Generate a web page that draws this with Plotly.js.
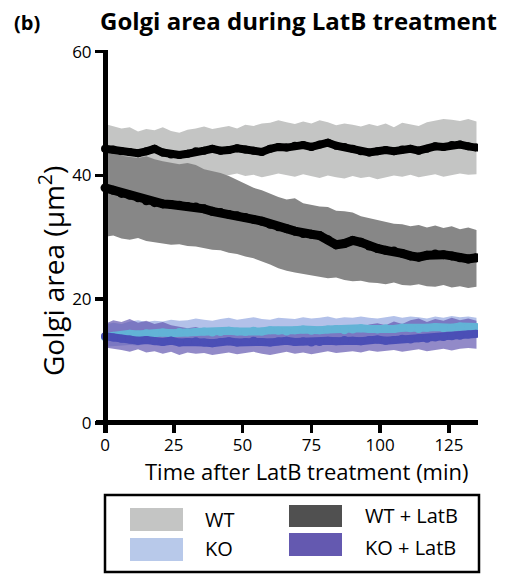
<!DOCTYPE html>
<html><head><meta charset="utf-8">
<script src="https://cdn.plot.ly/plotly-3.0.1.min.js"></script>
<style>html,body{margin:0;padding:0;background:#fff;} #chart{width:525px;height:575px;}</style>
</head><body><div id="chart"></div>
<script>
// ---- data ----
const time = [0,3,6,9,12,15,18,21,24,27,30,33,36,39,42,45,48,51,54,57,60,63,66,69,72,75,78,81,84,87,90,93,96,99,102,105,108,111,114,117,120,123,126,129,132,135];
const seriesNames = ['WT','KO','WT + LatB','KO + LatB'];
const xTicks = [0,25,50,75,100,125];
const yTicks = [0,20,40,60];

const wtMean  = [44.3,44.2,43.9,43.8,43.6,43.9,44.3,43.7,43.4,43.3,43.5,43.9,44.0,44.3,44.0,44.1,44.4,44.2,44.0,43.8,44.3,44.6,44.5,44.8,44.9,44.6,45.0,45.3,44.8,44.6,44.3,43.9,43.7,43.9,44.1,43.9,44.2,44.3,44.0,44.3,44.7,44.6,44.9,45.0,44.7,44.5];
const wtUpper = [48.3,48.0,47.6,47.8,47.1,47.5,47.3,47.8,47.2,46.9,47.4,47.6,47.9,47.5,47.8,48.0,47.6,48.2,48.0,48.4,48.5,48.9,48.6,48.3,48.7,48.4,48.9,48.6,48.1,48.4,48.2,47.9,48.3,48.0,48.4,47.8,48.5,48.2,48.0,48.6,48.9,49.1,49.0,48.8,49.1,48.7];
const wtLower = [40.0,40.2,39.8,39.9,39.6,39.9,39.7,40.0,39.5,39.6,39.8,39.5,39.9,40.2,39.8,40.0,40.3,39.9,40.1,39.7,40.0,40.3,40.1,39.8,40.2,39.9,39.6,40.0,39.7,39.5,39.9,39.6,39.8,39.4,39.7,40.0,39.8,40.1,39.7,39.9,40.2,39.8,40.0,40.3,40.1,40.2];

const wtLatMean  = [38.0,37.6,37.1,36.8,36.4,35.9,35.6,35.4,35.3,35.2,35.0,34.9,34.6,34.2,34.0,33.7,33.5,33.2,32.9,32.6,32.1,31.7,31.4,31.0,30.6,30.5,30.3,29.6,28.8,29.0,29.5,29.2,28.6,28.2,27.9,27.8,27.4,27.0,26.8,27.1,27.3,27.2,27.0,26.7,26.5,26.7];
const wtLatUpper = [45.0,44.0,43.2,43.0,42.8,43.1,42.6,42.3,42.1,41.8,42.0,41.7,41.0,40.7,40.4,39.9,39.3,38.6,38.0,37.6,37.0,36.5,36.1,36.3,35.5,35.2,35.0,34.9,34.3,34.2,34.0,33.4,33.1,32.8,32.6,32.2,32.1,31.8,32.0,31.6,31.9,31.5,31.8,31.3,31.6,31.2];
const wtLatLower = [30.1,30.3,29.8,29.6,29.9,29.4,29.3,29.0,28.8,28.9,28.6,28.5,28.3,28.0,27.9,27.5,27.3,26.9,26.6,26.1,25.6,25.0,24.6,24.3,24.1,23.8,23.6,23.4,23.5,23.1,22.9,23.0,22.7,22.6,22.4,22.7,22.3,22.2,22.4,22.1,22.0,22.3,21.9,22.1,21.8,22.0];

const koMean  = [13.9,14.1,14.2,14.4,14.3,14.5,14.4,14.6,14.5,14.7,14.6,14.7,14.8,14.6,14.7,14.9,14.8,14.7,14.9,14.8,15.0,14.9,14.8,15.0,15.1,14.9,15.0,15.1,15.2,15.0,15.1,15.3,15.2,15.1,15.3,15.2,15.4,15.3,15.2,15.4,15.5,15.3,15.4,15.6,15.5,15.5];
const koUpper = [15.9,16.2,16.0,16.4,16.6,16.3,16.5,16.4,16.7,16.5,16.6,16.9,16.7,16.5,16.8,17.0,16.7,16.9,17.1,16.8,16.7,17.0,16.9,16.8,17.1,16.9,17.0,17.2,16.9,17.1,17.0,17.2,17.0,16.9,17.1,17.3,17.0,17.2,17.1,16.9,17.2,17.0,17.3,17.1,17.2,17.0];
const koLower = [12.3,12.4,12.5,12.6,12.5,12.8,12.7,12.8,12.9,12.8,12.9,13.0,12.8,12.9,13.0,12.8,13.1,12.9,13.0,13.2,13.1,12.9,13.0,13.2,13.1,13.0,13.2,13.3,13.1,13.2,13.4,13.2,13.3,13.2,13.4,13.3,13.5,13.4,13.3,13.5,13.6,13.4,13.5,13.7,13.6,13.7];

const koLatMean  = [14.0,13.8,13.6,13.5,13.3,13.4,13.2,13.1,13.3,13.0,13.1,13.2,13.0,12.9,13.1,13.2,13.0,13.1,13.3,13.1,13.0,13.2,13.3,13.1,13.2,13.0,13.1,13.3,13.2,13.4,13.3,13.2,13.4,13.5,13.3,13.4,13.6,13.5,13.7,13.6,13.8,13.9,14.0,14.1,14.3,14.4];
const koLatUpper = [16.0,16.6,16.3,16.8,16.2,16.5,16.0,16.3,15.8,15.6,15.3,15.5,15.1,15.0,15.3,15.2,15.0,15.2,15.4,15.1,15.0,15.3,15.4,15.2,15.5,15.3,15.4,15.6,15.3,15.8,15.6,15.4,15.9,16.1,15.8,16.4,16.0,16.6,16.9,16.3,16.8,16.5,17.0,16.6,16.9,16.5];
const koLatLower = [12.2,12.0,11.8,11.5,11.9,11.4,11.6,11.2,11.5,11.0,11.4,11.2,11.3,11.0,11.2,11.4,11.1,11.3,11.5,11.2,11.0,11.3,11.5,11.2,11.4,11.1,11.3,11.6,11.3,11.5,11.6,11.4,11.7,11.5,11.6,11.8,11.5,11.7,11.9,11.6,11.8,12.0,11.7,12.0,12.1,12.0];

// ---- layout geometry / styles ----
const W = 525, H = 575;
const ML = 96, MR = 47, MT = 50, MB = 142;
const PW = W - ML - MR, PH = H - MT - MB;
const px2x = p => (p - ML) / PW;
const py2y = p => (H - MB - p) / PH;
const FONT = 'Open Sans, DejaVu Sans, sans-serif';
const xRange = [-3.27, 135.55];
const yRange = [-1.62, 60.27];

function band(upper, lower, color) {
  return {
    x: time.concat(time.slice().reverse()),
    y: upper.concat(lower.slice().reverse()),
    type: 'scatter', mode: 'lines', fill: 'toself', fillcolor: color,
    line: {width: 0, color: color}, hoverinfo: 'skip', showlegend: false
  };
}
function meanLine(y, color, w) {
  return {
    x: time, y: y, type: 'scatter', mode: 'lines+markers',
    line: {color: color, width: w, shape: 'linear'},
    marker: {color: color, size: w},
    hoverinfo: 'skip', showlegend: false
  };
}

const traces = [
  band(wtUpper, wtLower, '#c4c5c4'),
  band(wtLatUpper, wtLatLower, '#878787'),
  band(koUpper, koLower, '#b3c1e9'),
  band(koLatUpper, koLatLower, 'rgba(100,89,176,0.7)'),
  meanLine(wtMean, '#000000', 8),
  meanLine(wtLatMean, '#000000', 9),
  meanLine(koMean, '#62b3d6', 8),
  meanLine(koLatMean, '#4b4fb6', 8)
];

const legendColors = ['#c4c5c4', '#b8c9ea', '#505050', '#6459b0'];
const legendSw = [[130,183,508,531],[130,183,538,561],[289,342,505,527],[289,342,533,556]];
const legendTxt = [[203,519],[203,548],[363,515],[363,547]];

const shapes = [{
  type: 'rect', xref: 'paper', yref: 'paper',
  x0: px2x(105), x1: px2x(479), y0: py2y(495), y1: py2y(572),
  line: {color: '#000', width: 2.5}, fillcolor: 'rgba(0,0,0,0)'
}];
const annotations = [];
seriesNames.forEach((name, i) => {
  const s = legendSw[i];
  shapes.push({type: 'rect', xref: 'paper', yref: 'paper',
    x0: px2x(s[0]), x1: px2x(s[1]), y0: py2y(s[3]), y1: py2y(s[2]),
    line: {width: 0}, fillcolor: legendColors[i]});
  annotations.push({xref: 'paper', yref: 'paper', x: px2x(legendTxt[i][0]), y: py2y(legendTxt[i][1]),
    xanchor: 'left', yanchor: 'middle', showarrow: false, text: name,
    font: {family: FONT, size: 20, color: '#000'}});
});
annotations.push({xref: 'paper', yref: 'paper', x: px2x(298), y: py2y(21), xanchor: 'center', yanchor: 'middle',
  showarrow: false, text: '<b>Golgi area during LatB treatment</b>', font: {family: FONT, size: 24, color: '#000'}});
annotations.push({xref: 'paper', yref: 'paper', x: px2x(27), y: py2y(22), xanchor: 'center', yanchor: 'middle',
  showarrow: false, text: '<b>(b)</b>', font: {family: FONT, size: 20, color: '#000'}});
annotations.push({xref: 'paper', yref: 'paper', x: px2x(307), y: py2y(471), xanchor: 'center', yanchor: 'middle',
  showarrow: false, text: 'Time after LatB treatment (min)', font: {family: FONT, size: 22, color: '#000'}});
annotations.push({xref: 'paper', yref: 'paper', x: px2x(51), y: py2y(271), xanchor: 'center', yanchor: 'middle',
  showarrow: false, textangle: -90, text: 'Golgi area (μm<sup>2</sup>)', font: {family: FONT, size: 28, color: '#000'}});

const tickFont = {family: FONT, size: 17, color: '#000'};

const layout = {
  width: W, height: H,
  margin: {l: ML, r: MR, t: MT, b: MB},
  paper_bgcolor: '#fff', plot_bgcolor: '#fff',
  showlegend: false,
  // x axis: ticks/labels on the bottom edge; its visible line is the y = 0 zero line
  xaxis: {range: xRange, tickmode: 'array', tickvals: xTicks, showgrid: false,
    zeroline: false, showline: false, ticks: 'inside', ticklen: 10, tickwidth: 3.5, tickcolor: '#000',
    tickfont: tickFont, layer: 'above traces', fixedrange: true},
  // y axis: free axis whose line sits at x = 0, drawn above the bands
  yaxis: {range: yRange, tickmode: 'array', tickvals: yTicks, showgrid: false,
    zeroline: true, zerolinecolor: '#000', zerolinewidth: 5,
    showline: true, linecolor: '#000', linewidth: 5, anchor: 'free',
    position: (0 - xRange[0]) / (xRange[1] - xRange[0]),
    ticks: 'outside', ticklen: 8, tickwidth: 3.5, tickcolor: '#000',
    tickfont: tickFont, layer: 'above traces', fixedrange: true},
  shapes: shapes,
  annotations: annotations
};

Plotly.newPlot('chart', traces, layout, {displayModeBar: false, staticPlot: true});
</script>
</body></html>
